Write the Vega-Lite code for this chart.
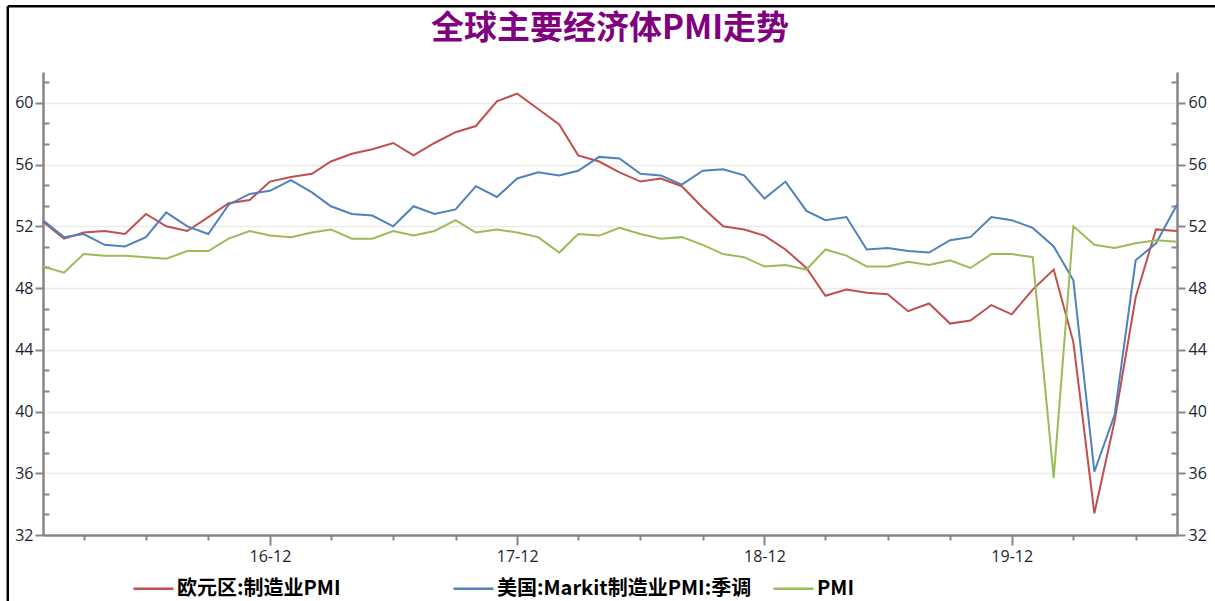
{
  "$schema": "https://vega.github.io/schema/vega-lite/v6.json",
  "width": 1134,
  "height": 463,
  "autosize": {"type": "none"},
  "padding": {"left": 43, "top": 72, "right": 38, "bottom": 66},
  "background": "white",
  "config": {"view": {"stroke": null}},
  "title": {
    "text": "全球主要经济体PMI走势",
    "font": "Noto Sans CJK SC",
    "fontSize": 33,
    "fontWeight": "bold",
    "color": "#800080",
    "anchor": "middle",
    "frame": "group",
    "baseline": "top",
    "offset": 0,
    "dy": 41
  },
  "data": {
    "values": [
      {"month": "2016-01", "series": "欧元区:制造业PMI", "value": 52.3},
      {"month": "2016-02", "series": "欧元区:制造业PMI", "value": 51.2},
      {"month": "2016-03", "series": "欧元区:制造业PMI", "value": 51.6},
      {"month": "2016-04", "series": "欧元区:制造业PMI", "value": 51.7},
      {"month": "2016-05", "series": "欧元区:制造业PMI", "value": 51.5},
      {"month": "2016-06", "series": "欧元区:制造业PMI", "value": 52.8},
      {"month": "2016-07", "series": "欧元区:制造业PMI", "value": 52.0},
      {"month": "2016-08", "series": "欧元区:制造业PMI", "value": 51.7},
      {"month": "2016-09", "series": "欧元区:制造业PMI", "value": 52.6},
      {"month": "2016-10", "series": "欧元区:制造业PMI", "value": 53.5},
      {"month": "2016-11", "series": "欧元区:制造业PMI", "value": 53.7},
      {"month": "2016-12", "series": "欧元区:制造业PMI", "value": 54.9},
      {"month": "2017-01", "series": "欧元区:制造业PMI", "value": 55.2},
      {"month": "2017-02", "series": "欧元区:制造业PMI", "value": 55.4},
      {"month": "2017-03", "series": "欧元区:制造业PMI", "value": 56.2},
      {"month": "2017-04", "series": "欧元区:制造业PMI", "value": 56.7},
      {"month": "2017-05", "series": "欧元区:制造业PMI", "value": 57.0},
      {"month": "2017-06", "series": "欧元区:制造业PMI", "value": 57.4},
      {"month": "2017-07", "series": "欧元区:制造业PMI", "value": 56.6},
      {"month": "2017-08", "series": "欧元区:制造业PMI", "value": 57.4},
      {"month": "2017-09", "series": "欧元区:制造业PMI", "value": 58.1},
      {"month": "2017-10", "series": "欧元区:制造业PMI", "value": 58.5},
      {"month": "2017-11", "series": "欧元区:制造业PMI", "value": 60.1},
      {"month": "2017-12", "series": "欧元区:制造业PMI", "value": 60.6},
      {"month": "2018-01", "series": "欧元区:制造业PMI", "value": 59.6},
      {"month": "2018-02", "series": "欧元区:制造业PMI", "value": 58.6},
      {"month": "2018-03", "series": "欧元区:制造业PMI", "value": 56.6},
      {"month": "2018-04", "series": "欧元区:制造业PMI", "value": 56.2},
      {"month": "2018-05", "series": "欧元区:制造业PMI", "value": 55.5},
      {"month": "2018-06", "series": "欧元区:制造业PMI", "value": 54.9},
      {"month": "2018-07", "series": "欧元区:制造业PMI", "value": 55.1},
      {"month": "2018-08", "series": "欧元区:制造业PMI", "value": 54.6},
      {"month": "2018-09", "series": "欧元区:制造业PMI", "value": 53.2},
      {"month": "2018-10", "series": "欧元区:制造业PMI", "value": 52.0},
      {"month": "2018-11", "series": "欧元区:制造业PMI", "value": 51.8},
      {"month": "2018-12", "series": "欧元区:制造业PMI", "value": 51.4},
      {"month": "2019-01", "series": "欧元区:制造业PMI", "value": 50.5},
      {"month": "2019-02", "series": "欧元区:制造业PMI", "value": 49.3},
      {"month": "2019-03", "series": "欧元区:制造业PMI", "value": 47.5},
      {"month": "2019-04", "series": "欧元区:制造业PMI", "value": 47.9},
      {"month": "2019-05", "series": "欧元区:制造业PMI", "value": 47.7},
      {"month": "2019-06", "series": "欧元区:制造业PMI", "value": 47.6},
      {"month": "2019-07", "series": "欧元区:制造业PMI", "value": 46.5},
      {"month": "2019-08", "series": "欧元区:制造业PMI", "value": 47.0},
      {"month": "2019-09", "series": "欧元区:制造业PMI", "value": 45.7},
      {"month": "2019-10", "series": "欧元区:制造业PMI", "value": 45.9},
      {"month": "2019-11", "series": "欧元区:制造业PMI", "value": 46.9},
      {"month": "2019-12", "series": "欧元区:制造业PMI", "value": 46.3},
      {"month": "2020-01", "series": "欧元区:制造业PMI", "value": 47.9},
      {"month": "2020-02", "series": "欧元区:制造业PMI", "value": 49.2},
      {"month": "2020-03", "series": "欧元区:制造业PMI", "value": 44.5},
      {"month": "2020-04", "series": "欧元区:制造业PMI", "value": 33.4},
      {"month": "2020-05", "series": "欧元区:制造业PMI", "value": 39.4},
      {"month": "2020-06", "series": "欧元区:制造业PMI", "value": 47.4},
      {"month": "2020-07", "series": "欧元区:制造业PMI", "value": 51.8},
      {"month": "2020-08", "series": "欧元区:制造业PMI", "value": 51.7},

      {"month": "2016-01", "series": "美国:Markit制造业PMI:季调", "value": 52.4},
      {"month": "2016-02", "series": "美国:Markit制造业PMI:季调", "value": 51.3},
      {"month": "2016-03", "series": "美国:Markit制造业PMI:季调", "value": 51.5},
      {"month": "2016-04", "series": "美国:Markit制造业PMI:季调", "value": 50.8},
      {"month": "2016-05", "series": "美国:Markit制造业PMI:季调", "value": 50.7},
      {"month": "2016-06", "series": "美国:Markit制造业PMI:季调", "value": 51.3},
      {"month": "2016-07", "series": "美国:Markit制造业PMI:季调", "value": 52.9},
      {"month": "2016-08", "series": "美国:Markit制造业PMI:季调", "value": 52.0},
      {"month": "2016-09", "series": "美国:Markit制造业PMI:季调", "value": 51.5},
      {"month": "2016-10", "series": "美国:Markit制造业PMI:季调", "value": 53.4},
      {"month": "2016-11", "series": "美国:Markit制造业PMI:季调", "value": 54.1},
      {"month": "2016-12", "series": "美国:Markit制造业PMI:季调", "value": 54.3},
      {"month": "2017-01", "series": "美国:Markit制造业PMI:季调", "value": 55.0},
      {"month": "2017-02", "series": "美国:Markit制造业PMI:季调", "value": 54.2},
      {"month": "2017-03", "series": "美国:Markit制造业PMI:季调", "value": 53.3},
      {"month": "2017-04", "series": "美国:Markit制造业PMI:季调", "value": 52.8},
      {"month": "2017-05", "series": "美国:Markit制造业PMI:季调", "value": 52.7},
      {"month": "2017-06", "series": "美国:Markit制造业PMI:季调", "value": 52.0},
      {"month": "2017-07", "series": "美国:Markit制造业PMI:季调", "value": 53.3},
      {"month": "2017-08", "series": "美国:Markit制造业PMI:季调", "value": 52.8},
      {"month": "2017-09", "series": "美国:Markit制造业PMI:季调", "value": 53.1},
      {"month": "2017-10", "series": "美国:Markit制造业PMI:季调", "value": 54.6},
      {"month": "2017-11", "series": "美国:Markit制造业PMI:季调", "value": 53.9},
      {"month": "2017-12", "series": "美国:Markit制造业PMI:季调", "value": 55.1},
      {"month": "2018-01", "series": "美国:Markit制造业PMI:季调", "value": 55.5},
      {"month": "2018-02", "series": "美国:Markit制造业PMI:季调", "value": 55.3},
      {"month": "2018-03", "series": "美国:Markit制造业PMI:季调", "value": 55.6},
      {"month": "2018-04", "series": "美国:Markit制造业PMI:季调", "value": 56.5},
      {"month": "2018-05", "series": "美国:Markit制造业PMI:季调", "value": 56.4},
      {"month": "2018-06", "series": "美国:Markit制造业PMI:季调", "value": 55.4},
      {"month": "2018-07", "series": "美国:Markit制造业PMI:季调", "value": 55.3},
      {"month": "2018-08", "series": "美国:Markit制造业PMI:季调", "value": 54.7},
      {"month": "2018-09", "series": "美国:Markit制造业PMI:季调", "value": 55.6},
      {"month": "2018-10", "series": "美国:Markit制造业PMI:季调", "value": 55.7},
      {"month": "2018-11", "series": "美国:Markit制造业PMI:季调", "value": 55.3},
      {"month": "2018-12", "series": "美国:Markit制造业PMI:季调", "value": 53.8},
      {"month": "2019-01", "series": "美国:Markit制造业PMI:季调", "value": 54.9},
      {"month": "2019-02", "series": "美国:Markit制造业PMI:季调", "value": 53.0},
      {"month": "2019-03", "series": "美国:Markit制造业PMI:季调", "value": 52.4},
      {"month": "2019-04", "series": "美国:Markit制造业PMI:季调", "value": 52.6},
      {"month": "2019-05", "series": "美国:Markit制造业PMI:季调", "value": 50.5},
      {"month": "2019-06", "series": "美国:Markit制造业PMI:季调", "value": 50.6},
      {"month": "2019-07", "series": "美国:Markit制造业PMI:季调", "value": 50.4},
      {"month": "2019-08", "series": "美国:Markit制造业PMI:季调", "value": 50.3},
      {"month": "2019-09", "series": "美国:Markit制造业PMI:季调", "value": 51.1},
      {"month": "2019-10", "series": "美国:Markit制造业PMI:季调", "value": 51.3},
      {"month": "2019-11", "series": "美国:Markit制造业PMI:季调", "value": 52.6},
      {"month": "2019-12", "series": "美国:Markit制造业PMI:季调", "value": 52.4},
      {"month": "2020-01", "series": "美国:Markit制造业PMI:季调", "value": 51.9},
      {"month": "2020-02", "series": "美国:Markit制造业PMI:季调", "value": 50.7},
      {"month": "2020-03", "series": "美国:Markit制造业PMI:季调", "value": 48.5},
      {"month": "2020-04", "series": "美国:Markit制造业PMI:季调", "value": 36.1},
      {"month": "2020-05", "series": "美国:Markit制造业PMI:季调", "value": 39.8},
      {"month": "2020-06", "series": "美国:Markit制造业PMI:季调", "value": 49.8},
      {"month": "2020-07", "series": "美国:Markit制造业PMI:季调", "value": 50.9},
      {"month": "2020-08", "series": "美国:Markit制造业PMI:季调", "value": 53.4},

      {"month": "2016-01", "series": "PMI", "value": 49.4},
      {"month": "2016-02", "series": "PMI", "value": 49.0},
      {"month": "2016-03", "series": "PMI", "value": 50.2},
      {"month": "2016-04", "series": "PMI", "value": 50.1},
      {"month": "2016-05", "series": "PMI", "value": 50.1},
      {"month": "2016-06", "series": "PMI", "value": 50.0},
      {"month": "2016-07", "series": "PMI", "value": 49.9},
      {"month": "2016-08", "series": "PMI", "value": 50.4},
      {"month": "2016-09", "series": "PMI", "value": 50.4},
      {"month": "2016-10", "series": "PMI", "value": 51.2},
      {"month": "2016-11", "series": "PMI", "value": 51.7},
      {"month": "2016-12", "series": "PMI", "value": 51.4},
      {"month": "2017-01", "series": "PMI", "value": 51.3},
      {"month": "2017-02", "series": "PMI", "value": 51.6},
      {"month": "2017-03", "series": "PMI", "value": 51.8},
      {"month": "2017-04", "series": "PMI", "value": 51.2},
      {"month": "2017-05", "series": "PMI", "value": 51.2},
      {"month": "2017-06", "series": "PMI", "value": 51.7},
      {"month": "2017-07", "series": "PMI", "value": 51.4},
      {"month": "2017-08", "series": "PMI", "value": 51.7},
      {"month": "2017-09", "series": "PMI", "value": 52.4},
      {"month": "2017-10", "series": "PMI", "value": 51.6},
      {"month": "2017-11", "series": "PMI", "value": 51.8},
      {"month": "2017-12", "series": "PMI", "value": 51.6},
      {"month": "2018-01", "series": "PMI", "value": 51.3},
      {"month": "2018-02", "series": "PMI", "value": 50.3},
      {"month": "2018-03", "series": "PMI", "value": 51.5},
      {"month": "2018-04", "series": "PMI", "value": 51.4},
      {"month": "2018-05", "series": "PMI", "value": 51.9},
      {"month": "2018-06", "series": "PMI", "value": 51.5},
      {"month": "2018-07", "series": "PMI", "value": 51.2},
      {"month": "2018-08", "series": "PMI", "value": 51.3},
      {"month": "2018-09", "series": "PMI", "value": 50.8},
      {"month": "2018-10", "series": "PMI", "value": 50.2},
      {"month": "2018-11", "series": "PMI", "value": 50.0},
      {"month": "2018-12", "series": "PMI", "value": 49.4},
      {"month": "2019-01", "series": "PMI", "value": 49.5},
      {"month": "2019-02", "series": "PMI", "value": 49.2},
      {"month": "2019-03", "series": "PMI", "value": 50.5},
      {"month": "2019-04", "series": "PMI", "value": 50.1},
      {"month": "2019-05", "series": "PMI", "value": 49.4},
      {"month": "2019-06", "series": "PMI", "value": 49.4},
      {"month": "2019-07", "series": "PMI", "value": 49.7},
      {"month": "2019-08", "series": "PMI", "value": 49.5},
      {"month": "2019-09", "series": "PMI", "value": 49.8},
      {"month": "2019-10", "series": "PMI", "value": 49.3},
      {"month": "2019-11", "series": "PMI", "value": 50.2},
      {"month": "2019-12", "series": "PMI", "value": 50.2},
      {"month": "2020-01", "series": "PMI", "value": 50.0},
      {"month": "2020-02", "series": "PMI", "value": 35.7},
      {"month": "2020-03", "series": "PMI", "value": 52.0},
      {"month": "2020-04", "series": "PMI", "value": 50.8},
      {"month": "2020-05", "series": "PMI", "value": 50.6},
      {"month": "2020-06", "series": "PMI", "value": 50.9},
      {"month": "2020-07", "series": "PMI", "value": 51.1},
      {"month": "2020-08", "series": "PMI", "value": 51.0}
    ],
    "format": {"parse": {"month": "utc:'%Y-%m'"}}
  },
  "layer": [
    {
      "mark": {"type": "line", "strokeWidth": 2, "clip": false},
      "encoding": {
        "x": {
          "field": "month",
          "type": "temporal",
          "scale": {
            "type": "utc",
            "domain": [
              {"year": 2016, "month": 1, "date": 1, "utc": true},
              {"year": 2020, "month": 8, "date": 1, "utc": true}
            ]
          },
          "axis": {
            "title": null,
            "orient": "bottom",
            "values": [
              {"year": 2016, "month": 3, "date": 1, "utc": true},
              {"year": 2016, "month": 6, "date": 1, "utc": true},
              {"year": 2016, "month": 9, "date": 1, "utc": true},
              {"year": 2016, "month": 12, "date": 1, "utc": true},
              {"year": 2017, "month": 3, "date": 1, "utc": true},
              {"year": 2017, "month": 6, "date": 1, "utc": true},
              {"year": 2017, "month": 9, "date": 1, "utc": true},
              {"year": 2017, "month": 12, "date": 1, "utc": true},
              {"year": 2018, "month": 3, "date": 1, "utc": true},
              {"year": 2018, "month": 6, "date": 1, "utc": true},
              {"year": 2018, "month": 9, "date": 1, "utc": true},
              {"year": 2018, "month": 12, "date": 1, "utc": true},
              {"year": 2019, "month": 3, "date": 1, "utc": true},
              {"year": 2019, "month": 6, "date": 1, "utc": true},
              {"year": 2019, "month": 9, "date": 1, "utc": true},
              {"year": 2019, "month": 12, "date": 1, "utc": true},
              {"year": 2020, "month": 3, "date": 1, "utc": true},
              {"year": 2020, "month": 6, "date": 1, "utc": true}
            ],
            "labelExpr": "utcmonth(datum.value) == 11 ? utcFormat(datum.value, '%y-%m') : ''",
            "grid": false,
            "domainColor": "#868686",
            "domainWidth": 2.5,
            "tickColor": "#868686",
            "tickWidth": 2,
            "tickSize": {"condition": {"test": "utcmonth(datum.value) == 11", "value": 10}, "value": 5},
            "labelFont": "Open Sans",
            "labelFontSize": 16,
            "labelColor": "#1e1e32",
            "labelPadding": 3,
            "labelFlush": false,
            "labelOverlap": false
          }
        },
        "y": {
          "field": "value",
          "type": "quantitative",
          "scale": {"domain": [32, 62], "nice": false, "zero": false},
          "axis": {
            "title": null,
            "orient": "left",
            "values": [32, 33.333, 34.667, 36, 37.333, 38.667, 40, 41.333, 42.667, 44, 45.333, 46.667, 48, 49.333, 50.667, 52, 53.333, 54.667, 56, 57.333, 58.667, 60, 61.333],
            "labelExpr": "datum.value % 4 === 0 ? format(datum.value, 'd') : ''",
            "grid": true,
            "gridColor": "#ebebeb",
            "gridWidth": 1.5,
            "gridOpacity": {"condition": {"test": "datum.value % 4 === 0 && datum.value > 32", "value": 1}, "value": 0},
            "domainColor": "#868686",
            "domainWidth": 2.5,
            "tickColor": "#868686",
            "tickWidth": 2,
            "tickSize": {"condition": {"test": "datum.value % 4 === 0", "value": 8}, "value": -6},
            "labelFont": "Open Sans",
            "labelFontSize": 16,
            "labelColor": "#1e1e32",
            "labelPadding": 2,
            "labelFlush": false,
            "labelOverlap": false
          }
        },
        "color": {
          "field": "series",
          "type": "nominal",
          "scale": {
            "domain": ["欧元区:制造业PMI", "美国:Markit制造业PMI:季调", "PMI"],
            "range": ["#C0504D", "#4F81BD", "#9BBB59"]
          },
          "legend": {
            "title": null,
            "orient": "none",
            "legendX": 89,
            "legendY": 495,
            "direction": "horizontal",
            "columns": 3,
            "gridAlign": "all",
            "columnPadding": 16,
            "symbolType": "stroke",
            "symbolSize": 1600,
            "symbolStrokeWidth": 2.5,
            "labelFont": "Noto Sans CJK SC",
            "labelFontWeight": "bold",
            "labelFontSize": 20,
            "labelColor": "#000000",
            "labelOffset": 2,
            "labelLimit": 500
          }
        }
      }
    },
    {
      "mark": {"type": "line", "opacity": 0},
      "encoding": {
        "x": {"field": "month", "type": "temporal"},
        "y": {
          "field": "value",
          "type": "quantitative",
          "axis": {
            "title": null,
            "orient": "right",
            "values": [32, 33.333, 34.667, 36, 37.333, 38.667, 40, 41.333, 42.667, 44, 45.333, 46.667, 48, 49.333, 50.667, 52, 53.333, 54.667, 56, 57.333, 58.667, 60, 61.333],
            "labelExpr": "datum.value % 4 === 0 ? format(datum.value, 'd') : ''",
            "grid": false,
            "domainColor": "#868686",
            "domainWidth": 2.5,
            "tickColor": "#868686",
            "tickWidth": 2,
            "tickSize": {"condition": {"test": "datum.value % 4 === 0", "value": 8}, "value": -6},
            "labelFont": "Open Sans",
            "labelFontSize": 16,
            "labelColor": "#1e1e32",
            "labelPadding": 3,
            "labelFlush": false,
            "labelOverlap": false
          }
        },
        "detail": {"field": "series"}
      }
    },
    {
      "data": {"values": [{}]},
      "mark": {"type": "rule", "color": "#000000", "strokeWidth": 2.5, "clip": false},
      "encoding": {
        "x": {"datum": {"year": 2015, "month": 11, "date": 10, "utc": true}, "type": "temporal"},
        "x2": {"datum": {"year": 2021, "month": 3, "date": 1, "utc": true}},
        "y": {"datum": 66.26, "type": "quantitative", "axis": null}
      }
    },
    {
      "data": {"values": [{}]},
      "mark": {"type": "rule", "color": "#000000", "strokeWidth": 2.5, "clip": false},
      "encoding": {
        "x": {"datum": {"year": 2015, "month": 11, "date": 10, "utc": true}, "type": "temporal"},
        "y": {"datum": 66.26, "type": "quantitative", "axis": null},
        "y2": {"datum": 20}
      }
    }
  ],
  "resolve": {"axis": {"y": "independent"}}
}
